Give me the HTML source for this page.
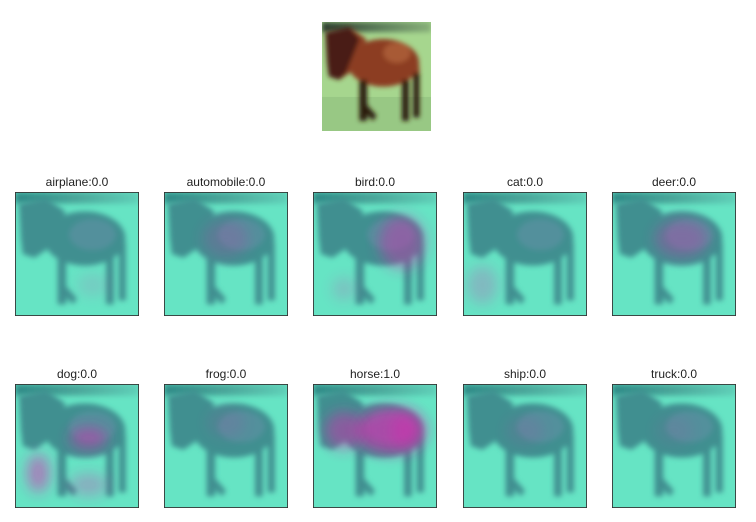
<!DOCTYPE html>
<html><head><meta charset="utf-8"><style>
html,body{margin:0;padding:0;background:#fff;width:756px;height:522px;overflow:hidden}
svg text{font-family:"Liberation Sans","DejaVu Sans",sans-serif;font-size:12px;fill:#222}
</style></head><body>
<svg id="fig" width="756" height="522" viewBox="0 0 756 522" xmlns="http://www.w3.org/2000/svg">
<defs>
<filter id="bl" x="-50%" y="-50%" width="200%" height="200%"><feGaussianBlur stdDeviation="0.7"/></filter>
<filter id="bl2" x="-50%" y="-50%" width="200%" height="200%"><feGaussianBlur stdDeviation="1.8"/></filter>
<linearGradient id="topg" x1="0" x2="1" y1="0" y2="0"><stop offset="0" stop-color="#2e3e30"/><stop offset="0.5" stop-color="#5a7a58"/><stop offset="1" stop-color="#88b07a"/></linearGradient>
<linearGradient id="topt" x1="0" x2="1" y1="0" y2="0"><stop offset="0" stop-color="#2e8a86"/><stop offset="0.5" stop-color="#4aa69a"/><stop offset="1" stop-color="#60d0b8"/></linearGradient>
<g id="horse">
<path d="M1,3 L8,1.5 L13,5 L11,10 L8,15 L5,17 L2,16 L1.5,12 Z"/>
<ellipse cx="18" cy="12" rx="10.5" ry="7"/>
<rect x="11" y="15" width="2.2" height="14"/>
<path d="M12,23 L16,27.5 L15,29 L11,25 Z"/>
<rect x="23.5" y="15" width="2" height="14"/>
<rect x="26.8" y="13" width="1.8" height="15"/>
</g>
</defs>
<g>
<svg x="322" y="22" width="109" height="109" viewBox="0 0 32 32">
<rect width="32" height="32" fill="#a6d68e"/>
<rect width="32" height="3" fill="url(#topg)" filter="url(#bl)"/>
<rect y="22" width="32" height="10" fill="#98c884"/>
<g filter="url(#bl)">
<use href="#horse" fill="#8c3e22"/>
<path d="M1,3 L8,1.5 L11,5 L9,10 L7,15 L5,17 L2,16 L1.5,12 Z" fill="#4a1a14"/>
<rect x="11" y="17" width="2.2" height="12" fill="#2a1a10"/>
<rect x="23.5" y="17" width="2" height="12" fill="#2a1a10"/>
<rect x="26.8" y="15" width="1.8" height="13" fill="#2a1a10"/>
<path d="M12,23 L16,27.5 L15,29 L11,25 Z" fill="#2a1a10"/>
<ellipse cx="22" cy="9" rx="4" ry="3" fill="#a85a36"/>
</g>
</svg>
</g>
<g id="panels"></g>
</svg>
<script>
const classes=["airplane","automobile","bird","cat","deer","dog","frog","horse","ship","truck"];
const scores=[0.0,0.0,0.0,0.0,0.0,0.0,0.0,1.0,0.0,0.0];
// heat blobs per class: [cx,cy,rx,ry,opacity] in 32-unit image coords
const heat=[[[20,24,4,3,0.12]],[[16,12,6,5,0.18]],[[23,13,6,7,0.4],[8,25,3,3,0.18]],[[5,24,4,5,0.22]],[[18,12,7,5,0.3]],[[6,23,3,5,0.5],[19,14,5,3,0.45],[19,26,5,3,0.28]],[[16,10,5,4,0.1]],[[20,12,9,6,0.6],[8,12,5,5,0.45],[24,12,4,5,0.35]],[[16,12,5,4,0.1]],[[16,12,5,4,0.08]]];
const NS="http://www.w3.org/2000/svg";
const xs=[15,164,313,463,612], ys=[192,384], S=124;
const g=document.getElementById('panels');
classes.forEach((c,i)=>{
  const x=xs[i%5], y=ys[Math.floor(i/5)];
  const grp=document.createElementNS(NS,'g');
  
  
  const t=document.createElementNS(NS,'text');
  
  
  t.setAttribute('x',x+S/2);t.setAttribute('y',y-6);t.setAttribute('text-anchor','middle');
  t.textContent=c+':'+scores[i].toFixed(1);
  grp.appendChild(t);
  const s=document.createElementNS(NS,'svg');
  s.setAttribute('x',x);s.setAttribute('y',y);s.setAttribute('width',S);s.setAttribute('height',S);s.setAttribute('viewBox','0 0 32 32');
  let h='<rect width="32" height="32" fill="#66e4c4"/><rect width="32" height="3" fill="url(#topt)" filter="url(#bl)"/><g filter="url(#bl)"><use href="#horse" fill="#3f8f90"/><ellipse cx="20" cy="11" rx="6" ry="4" fill="#52909c"/></g>';
  heat[i].forEach(b=>{h+='<ellipse cx="'+b[0]+'" cy="'+b[1]+'" rx="'+b[2]+'" ry="'+b[3]+'" fill="#e020b0" opacity="'+b[4]+'" filter="url(#bl2)"/>';});
  h+='<rect x="0.1" y="0.1" width="31.8" height="31.8" fill="none" stroke="#333" stroke-width="0.25"/>';
  s.innerHTML=h;
  
  
  grp.appendChild(s);
  g.appendChild(grp);
});
</script>
</body></html>
